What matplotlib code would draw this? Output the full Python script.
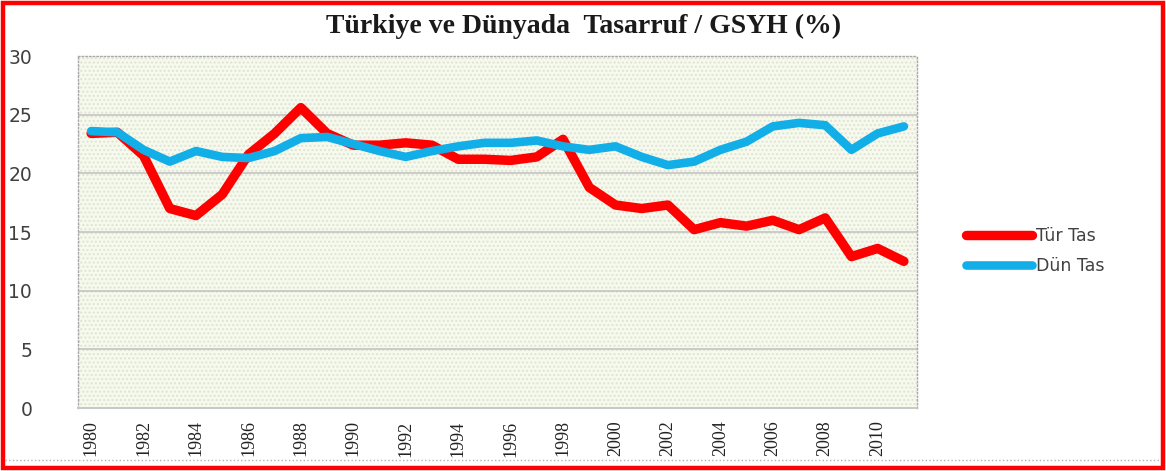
import matplotlib
matplotlib.use("Agg")
import matplotlib.pyplot as plt
from matplotlib.patches import Rectangle
from matplotlib.lines import Line2D
import numpy as np

years = list(range(1980, 2012))
tur_tas = [23.4, 23.5, 21.5, 17.0, 16.4, 18.2, 21.6, 23.4, 25.6, 23.4,
           22.4, 22.4, 22.6, 22.4, 21.2, 21.2, 21.1, 21.4, 22.9, 18.8,
           17.3, 17.0, 17.3, 15.2, 15.8, 15.5, 16.0, 15.2, 16.2, 12.9,
           13.6, 12.5]
dun_tas = [23.6, 23.5, 22.0, 21.0, 21.9, 21.4, 21.3, 21.9, 23.0, 23.1,
           22.5, 21.9, 21.4, 21.9, 22.3, 22.6, 22.6, 22.8, 22.3, 22.0,
           22.3, 21.4, 20.7, 21.0, 22.0, 22.7, 24.0, 24.3, 24.1, 22.0,
           23.4, 24.0]
series_names = ["Tür Tas", "Dün Tas"]
title = "Türkiye ve Dünyada  Tasarruf / GSYH (%)"
yticks = [0, 5, 10, 15, 20, 25, 30]

W, H = 1166, 471
fig = plt.figure(figsize=(W / 100, H / 100), dpi=100)
fig.patch.set_facecolor("white")

ax = fig.add_axes([78 / W, 1 - 408 / H, (917 - 78) / W, (408 - 56) / H])
ax.set_facecolor("#f6faec")
ax.add_patch(Rectangle((0, 0), 1, 1, transform=ax.transAxes, facecolor="none",
                       edgecolor="#e0e2d6", hatch="....", linewidth=0, zorder=0))

x = np.arange(len(years))
ax.plot(x, tur_tas, color="#ff0000", lw=6.8, solid_joinstyle="round",
        solid_capstyle="round", zorder=3)
ax.plot(x, dun_tas, color="#12aee8", lw=6.2, solid_joinstyle="round",
        solid_capstyle="round", zorder=4)

ax.set_xlim(-0.5, len(years) - 0.5)
ax.set_ylim(0, 30)
ax.set_yticks(yticks)
ax.set_yticklabels([str(v) for v in yticks], fontsize=13.5, color="#404040",
                   family="DejaVu Sans")
ax.set_xticks(x[::2])
ax.set_xticklabels([str(y) for y in years[::2]], rotation=90, fontsize=13,
                   family="Liberation Serif", color="#222222")
ax.tick_params(axis="both", length=0)
ax.tick_params(axis="y", pad=33)
ax.tick_params(axis="x", pad=9)

for v in yticks[1:-1]:
    ax.axhline(v, color="#c4c4c4", lw=1.2, zorder=1)

for s in ["left", "top", "right"]:
    ax.spines[s].set_linestyle(":")
    ax.spines[s].set_color("#a8a8a8")
    ax.spines[s].set_linewidth(1.0)
ax.spines["bottom"].set_color("#c4c4c4")
ax.spines["bottom"].set_linewidth(1.3)

fig.text(584 / W, 1 - 26 / H, title, ha="center", va="center",
         fontsize=20, fontweight="bold", family="Liberation Serif",
         color="#1a1a1a")

handles = [Line2D([], [], color="#ff0000", lw=6.8, solid_capstyle="round"),
           Line2D([], [], color="#12aee8", lw=6.2, solid_capstyle="round")]
leg = fig.legend(handles, series_names, loc="center left",
                 bbox_to_anchor=(950 / W, 1 - 251 / H), frameon=False,
                 handlelength=3.8, handletextpad=0.25, labelspacing=0.65,
                 prop={"family": "DejaVu Sans", "size": 12.5})
for t in leg.get_texts():
    t.set_color("#404040")

# gray dotted line near bottom and red frame
fig.add_artist(Line2D([5 / W, 1160 / W], [1 - 460 / H, 1 - 460 / H],
                      transform=fig.transFigure, color="#b0b0b0", lw=1.0,
                      linestyle=":"))
fig.add_artist(Rectangle((3 / W, 3 / H), (W - 6) / W, (H - 6) / H,
                         transform=fig.transFigure, facecolor="none",
                         edgecolor="#ff0000", linewidth=3.2))

fig.savefig("out.png", dpi=100)
